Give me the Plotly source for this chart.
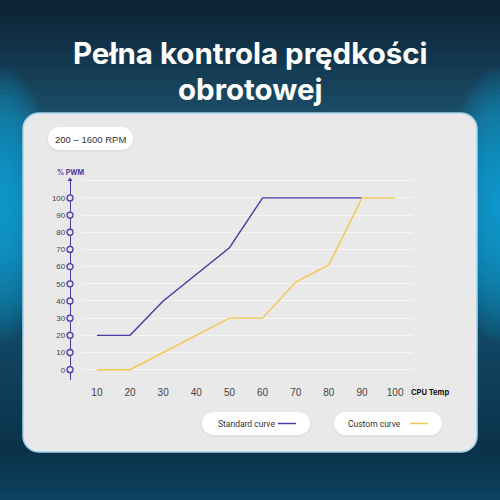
import plotly.graph_objects as go
import numpy as np

# ---- data ----
temps = [10, 20, 30, 40, 50, 60, 70, 80, 90, 100]
standard_x = [10, 20, 30, 50, 60, 90]
standard_y = [20, 20, 40, 71, 100, 100]
custom_x = [10, 20, 50, 60, 70, 80, 90, 100]
custom_y = [0, 0, 30, 30, 51, 61, 100, 100]
pwm_ticks = [0, 10, 20, 30, 40, 50, 60, 70, 80, 90, 100]

title_lines = ["Pełna kontrola prędkości", "obrotowej"]
rpm_label = "200 – 1600 RPM"
y_title = "% PWM"
x_title = "CPU Temp"
legend_names = ["Standard curve", "Custom curve"]

PURPLE = "#4a3aa6"
YELLOW = "#f1c84e"
CARD = "#e9e9e9"
W = H = 500

def px(x):
    return x / W

def py(y):
    return 1 - y / H

def hexc(c):
    c = c.lstrip("#")
    return np.array([int(c[i:i + 2], 16) for i in (0, 2, 4)], dtype=float)

def mix(stops, t):
    for (t0, c0), (t1, c1) in zip(stops[:-1], stops[1:]):
        if t0 <= t <= t1:
            f = (t - t0) / (t1 - t0) if t1 > t0 else 0
            c = hexc(c0) * (1 - f) + hexc(c1) * f
            return "rgb(%d,%d,%d)" % tuple(c.round())
    return stops[-1][1]

shapes = []
# vertical background gradient
bg_stops = [(0, "#0b2131"), (60, "#133850"), (120, "#1c5069"), (250, "#165470"),
            (380, "#0f3f5a"), (450, "#0b3149"), (500, "#0f4460")]
step = 5
for y in range(0, H, step):
    shapes.append(dict(type="rect", xref="paper", yref="paper", layer="below",
                       x0=0, x1=1, y0=py(y + step + 1), y1=py(y),
                       fillcolor=mix(bg_stops, y + step / 2), line=dict(width=0)))

# side glows
for cx in (0, W):
    n = 24
    for k in range(n):
        f = 1 - k / n
        rx, ry = 52 * f + 4, 130 * f + 8
        cy = 205
        shapes.append(dict(type="circle", xref="paper", yref="paper", layer="below",
                           x0=px(cx - rx), x1=px(cx + rx), y0=py(cy + ry), y1=py(cy - ry),
                           fillcolor="#0aa8e2", opacity=0.07, line=dict(width=0)))

def rrect(x0, y0, x1, y1, r):
    pts = []
    for (cx, cy, a0) in [(x1 - r, y0 + r, -90), (x1 - r, y1 - r, 0), (x0 + r, y1 - r, 90), (x0 + r, y0 + r, 180)]:
        for a in np.linspace(a0, a0 + 90, 10):
            ang = np.radians(a)
            pts.append((cx + r * np.cos(ang), cy + r * np.sin(ang)))
    return "M " + " L ".join("%.5f,%.5f" % (px(x), py(y)) for x, y in pts) + " Z"

# card
shapes.append(dict(type="path", xref="paper", yref="paper", layer="below",
                   path=rrect(23, 113, 477, 452, 16), fillcolor=CARD,
                   line=dict(color="#9fd3ec", width=1.5)))
# pills (soft shadow + white)
for (x0, y0, x1, y1) in [(48, 127, 133, 150), (202, 412, 310, 435), (334, 412, 442, 435)]:
    shapes.append(dict(type="path", xref="paper", yref="paper", layer="below",
                       path=rrect(x0 - 1, y0, x1 + 1, y1 + 2, 12.5), fillcolor="rgba(0,0,0,0.04)",
                       line=dict(width=0)))
    shapes.append(dict(type="path", xref="paper", yref="paper", layer="below",
                       path=rrect(x0, y0, x1, y1, 11.5), fillcolor="white",
                       line=dict(width=0)))
# legend swatches
for (x0, x1, c) in [(278, 296, PURPLE), (410, 428, YELLOW)]:
    shapes.append(dict(type="line", xref="paper", yref="paper", layer="below",
                       x0=px(x0), x1=px(x1), y0=py(423.5), y1=py(423.5),
                       line=dict(color=c, width=1.5)))

# plot geometry
XR = [5.5, 105.1]
YR = [-6, 111]
dom_x = [px(82), px(412)]
dom_y = [py(380), py(179)]

fig = go.Figure()
fig.add_trace(go.Scatter(x=standard_x, y=standard_y, mode="lines",
                         line=dict(color=PURPLE, width=1.4), hoverinfo="skip"))
fig.add_trace(go.Scatter(x=custom_x, y=custom_y, mode="lines",
                         line=dict(color=YELLOW, width=1.4), hoverinfo="skip"))
# y-axis tick circles and arrow on a narrow helper subplot centred on the axis line
fig.add_trace(go.Scatter(x=[0.5] * len(pwm_ticks), y=pwm_ticks, mode="markers",
                         xaxis="x2", yaxis="y2", cliponaxis=False, hoverinfo="skip",
                         marker=dict(symbol="circle", size=6, color=CARD,
                                     line=dict(color=PURPLE, width=1.3))))
fig.add_trace(go.Scatter(x=[0.5], y=[YR[1] - 0.5], mode="markers", cliponaxis=False,
                         xaxis="x2", yaxis="y2", hoverinfo="skip",
                         marker=dict(symbol="triangle-up", size=4.5, color=PURPLE)))

LEG_FONT = dict(family="Roboto", size=8.5, color="#333333")
annotations = [
    dict(text=title_lines[0], x=0.5, y=py(53), xref="paper", yref="paper", showarrow=False,
         font=dict(family="Inter", size=29.5, color="white", weight=700), xanchor="center", yanchor="middle"),
    dict(text=title_lines[1], x=0.5, y=py(89), xref="paper", yref="paper", showarrow=False,
         font=dict(family="Inter", size=29.5, color="white", weight=700), xanchor="center", yanchor="middle"),
    dict(text=rpm_label, x=px(90.5), y=py(139), xref="paper", yref="paper", showarrow=False,
         font=dict(family="Liberation Sans", size=9.5, color="#333333"), xanchor="center", yanchor="middle"),
    dict(text=y_title, x=px(71), y=py(172), xref="paper", yref="paper", showarrow=False,
         font=dict(family="Inter", size=7, color=PURPLE, weight=700), xanchor="center", yanchor="middle"),
    dict(text=x_title, x=px(409), y=py(392), xref="paper", yref="paper", showarrow=False,
         font=dict(family="Inter", size=7.5, color="#111111", weight=700), xanchor="left", yanchor="middle"),
    dict(text=legend_names[0], x=px(216), y=py(423.5), xref="paper", yref="paper", showarrow=False,
         font=LEG_FONT, xanchor="left", yanchor="middle"),
    dict(text=legend_names[1], x=px(346), y=py(423.5), xref="paper", yref="paper", showarrow=False,
         font=LEG_FONT, xanchor="left", yanchor="middle"),
]

fig.update_layout(
    width=W, height=H, autosize=False,
    margin=dict(l=0, r=0, t=0, b=0),
    paper_bgcolor="#0d2b40", plot_bgcolor="rgba(0,0,0,0)",
    showlegend=False, shapes=shapes, annotations=annotations,
    xaxis=dict(domain=dom_x, range=XR, tickvals=temps, showgrid=False, zeroline=False,
               showline=False, tickfont=dict(family="Liberation Sans", size=10, color="#444444"),
               ticklabelstandoff=5, fixedrange=True),
    yaxis=dict(domain=dom_y, range=YR, anchor="free", position=px(70),
               tickvals=pwm_ticks + [110], ticktext=[str(v) for v in pwm_ticks] + [""],
               showgrid=True, gridcolor="#f6f6f6", gridwidth=1, zeroline=False,
               showline=True, linecolor=PURPLE, linewidth=1.3,
               tickfont=dict(family="Liberation Sans", size=8, color="#444444"),
               ticklabelstandoff=3, fixedrange=True),
    xaxis2=dict(domain=[px(60), px(80)], range=[0, 1], anchor="y2", visible=False, fixedrange=True),
    yaxis2=dict(domain=dom_y, range=YR, anchor="x2", visible=False, fixedrange=True),
)

fig.write_html("out.html")
